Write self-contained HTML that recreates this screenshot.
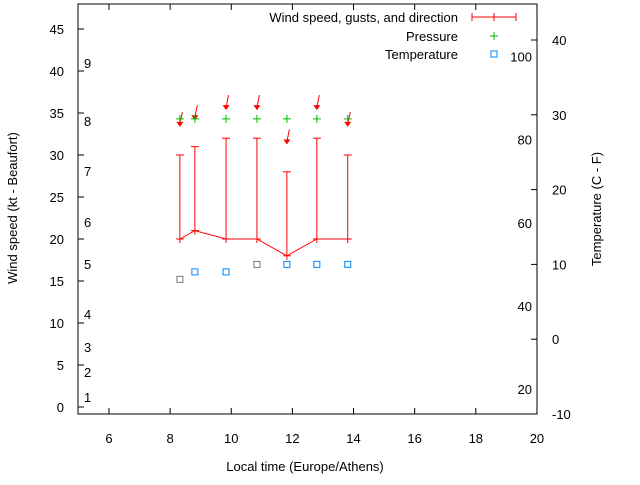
<!DOCTYPE html>
<html><head><meta charset="utf-8"><style>
body{margin:0;background:#fff}
svg{font-family:"Liberation Sans",sans-serif;font-size:13px}
</style></head><body>
<svg id="c" width="640" height="480" viewBox="0 0 640 480"></svg>
<script>
const times=[8.32,8.81,9.83,10.84,11.82,12.8,13.81];
const wind=[20,21,20,20,18,20,20];
const gusts=[30,31,32,32,28,32,30];
const pressure=[34.3,34.3,34.3,34.3,34.3,34.3,34.3];
const temps=[8,9,9,10,10,10,10];
const arrowY=[33.7,34.5,35.7,35.7,31.6,35.7,33.7];
const xTicks=[6,8,10,12,14,16,18,20];
const yTicks=[0,5,10,15,20,25,30,35,40,45];
const y2Ticks=[-10,0,10,20,30,40];
const bft=[[1,397],[2,372],[3,347],[4,314],[5,264],[6,222],[7,171],[8,121],[9,63]];
const fahr=[20,40,60,80,100];
const L=78,R=537,T=4,B=414;
const X=v=>78.4+(v-5)*30.57;
const Y=v=>407-v*8.4;
const Y2=v=>414-(v+10)*7.48;
const svg=document.getElementById('c');
const NS='http://www.w3.org/2000/svg';
function mk(t,a,p){const e=document.createElementNS(NS,t);for(const k in a)e.setAttribute(k,a[k]);(p||svg).appendChild(e);return e;}
function tx(x,y,s,anchor,name){const e=mk('text',{x:x,y:y,'text-anchor':anchor||'middle',fill:'#000'});e.textContent=s;

return e;}
const frame=mk('rect',{x:L,y:T,width:R-L,height:B-T,fill:'none',stroke:'#000'});


xTicks.forEach(v=>{const x=X(v);mk('line',{x1:x,x2:x,y1:B,y2:B-6,stroke:'#000'});mk('line',{x1:x,x2:x,y1:T,y2:T+6,stroke:'#000'});tx(x,443,v,'middle','x-tick-label');});
yTicks.forEach(v=>{const y=Y(v);mk('line',{x1:L,x2:L+6,y1:y,y2:y,stroke:'#000'});tx(64,y+5,v,'end','y-tick-label');});
y2Ticks.forEach(v=>{const y=Y2(v);mk('line',{x1:R,x2:R-6,y1:y,y2:y,stroke:'#000'});tx(552,y+5,v,'start','y2-tick-label');});
bft.forEach(b=>tx(84,b[1]+5,b[0],'start','beaufort-label'));
fahr.forEach(f=>{const c=(f-32)*5/9;tx(532,Y2(c)+5,f,'end','fahrenheit-label');});
tx(305,471,'Local time (Europe/Athens)','middle','x-axis-title');
const yt=tx(0,0,'Wind speed (kt - Beaufort)','middle','y-axis-title');yt.setAttribute('transform','translate(17,208) rotate(-90)');
const y2t=tx(0,0,'Temperature (C - F)','middle','y2-axis-title');y2t.setAttribute('transform','translate(601,209) rotate(-90)');
const pl=mk('polyline',{points:times.map((t,i)=>X(t)+','+Y(wind[i])).join(' '),fill:'none',stroke:'#f00'});


times.forEach((t,i)=>{const x=X(t);
const g=mk('g',{stroke:'#f00'});


mk('line',{x1:x,x2:x,y1:Y(wind[i])+4,y2:Y(gusts[i])},g);
mk('line',{x1:x-4,x2:x+4,y1:Y(gusts[i]),y2:Y(gusts[i])},g);
mk('line',{x1:x-4,x2:x+4,y1:Y(wind[i]),y2:Y(wind[i])},g);
const ay=Y(arrowY[i]);
const a=mk('g',{});


mk('line',{x1:x,x2:x+2.5,y1:ay,y2:ay-12,stroke:'#f00'},a);
mk('polygon',{points:`${x-3.5},${ay-2} ${x+3.5},${ay-2} ${x},${ay+3}`,fill:'#f00'},a);
const p=mk('g',{stroke:'#0b0'});


const py=Y(pressure[i]);
mk('line',{x1:x-4,x2:x+4,y1:py,y2:py},p);mk('line',{x1:x,x2:x,y1:py-4,y2:py+4},p);
const tq=mk('rect',{x:x-3,y:Y2(temps[i])-3,width:6,height:6,fill:'none',stroke:(i==0||i==3)?'#777':'#08f'});


});
tx(458,22,'Wind speed, gusts, and direction','end','legend-wind');
mk('line',{x1:472,x2:516,y1:17,y2:17,stroke:'#f00'});
[472,494,516].forEach(x=>mk('line',{x1:x,x2:x,y1:13,y2:21,stroke:'#f00'}));
tx(458,41,'Pressure','end','legend-pressure');
mk('line',{x1:490,x2:498,y1:36,y2:36,stroke:'#0b0'});mk('line',{x1:494,x2:494,y1:32,y2:40,stroke:'#0b0'});
tx(458,59,'Temperature','end','legend-temperature');
mk('rect',{x:491,y:51,width:6,height:6,fill:'none',stroke:'#08f'});
</script>
</body></html>
